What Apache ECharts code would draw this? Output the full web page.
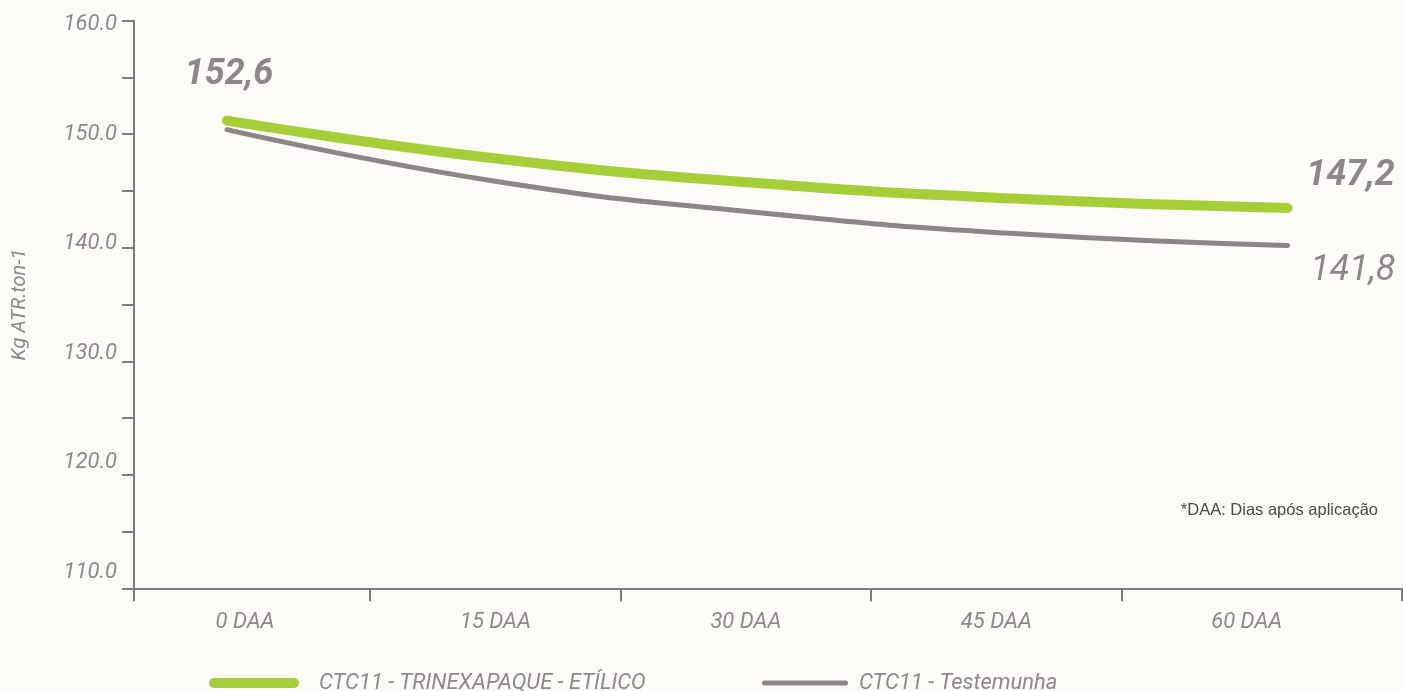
<!DOCTYPE html>
<html>
<head>
<meta charset="utf-8">
<script src="https://cdn.jsdelivr.net/npm/echarts@6/dist/echarts.min.js"></script>
<style>
html,body{margin:0;padding:0;background:#fcfbf8;}
#chart{width:1403px;height:691px;}
</style>
</head>
<body>
<div id="chart"></div>
<script>
// ---- data ----
var daa = [0, 15, 30, 45, 60];
var seriesNames = ['CTC11 - TRINEXAPAQUE - ETÍLICO', 'CTC11 - Testemunha'];
var trinexapaque = [151.2, 147.9, 145.7, 144.3, 143.5];
var testemunha = [150.4, 145.9, 143.1, 141.2, 140.2];
var trinexLabels = ['152,6', null, null, null, '147,2'];
var testeLabels = [null, null, null, null, '141,8'];
var yTicks = [110, 120, 130, 140, 150, 160];
var yName = 'Kg ATR.ton-1';
var footnote = '*DAA: Dias após aplicação';

var GRAY = '#8d888b';
var AXIS = '#7b7b80';
var GREEN = '#a6ce39';
var LINEGRAY = '#8c8589';
var FONT = 'Roboto';

// category boundaries (half way between DAA values)
var tickVals = [-6.65];
for (var i = 0; i < daa.length - 1; i++) tickVals.push((daa[i] + daa[i + 1]) / 2);
tickVals.push(69.3);

function buildData(vals, labels, labelStyles) {
  return vals.map(function (v, i) {
    var item = { value: [daa[i], v] };
    if (labels[i]) {
      item.label = Object.assign({ show: true, formatter: labels[i] }, labelStyles[i] || {});
    }
    return item;
  });
}

var bigBold = { color: GRAY, fontFamily: FONT, fontStyle: 'italic', fontWeight: 'bold', fontSize: 36 };
var greenData = buildData(trinexapaque, trinexLabels, {
  0: Object.assign({ position: 'top', distance: 27, offset: [2, 0] }, bigBold),
  4: Object.assign({ position: 'right', distance: 18, offset: [0, -32] }, bigBold)
});
var grayData = buildData(testemunha, testeLabels, {
  4: { position: 'right', distance: 22, offset: [0, 26], color: GRAY, fontFamily: FONT, fontStyle: 'italic', fontWeight: 'normal', fontSize: 36 }
});

var labelStyle = { color: GRAY, fontFamily: FONT, fontStyle: 'italic', fontWeight: 'normal', fontSize: 22 };

var chart = echarts.init(document.getElementById('chart'), null, { renderer: 'canvas' });
chart.setOption({
  backgroundColor: '#fcfbf8',
  animation: false,
  grid: { left: 134, right: 1, top: 20.7, bottom: 102.7, containLabel: false },
  xAxis: [{
    type: 'value',
    min: tickVals[0],
    max: tickVals[tickVals.length - 1],
    axisLine: { show: true, onZero: false, lineStyle: { color: AXIS, width: 2 } },
    axisTick: { show: true, length: 13, customValues: tickVals, lineStyle: { color: AXIS, width: 2 } },
    axisLabel: Object.assign({
      customValues: daa,
      formatter: function (v) { return v + ' DAA'; },
      margin: 23
    }, labelStyle),
    splitLine: { show: false }
  }, {
    type: 'value',
    show: false,
    min: -5.26,
    max: 66.47,
    splitLine: { show: false }
  }],
  yAxis: [{
    type: 'value',
    min: yTicks[0],
    max: yTicks[yTicks.length - 1],
    interval: 10,
    name: yName,
    nameLocation: 'middle',
    nameGap: 104,
    nameTextStyle: { color: GRAY, fontFamily: FONT, fontStyle: 'italic', fontWeight: 'normal', fontSize: 20 },
    axisLine: { show: true, onZero: false, lineStyle: { color: AXIS, width: 2 } },
    axisTick: { show: true, length: 12, lineStyle: { color: AXIS, width: 2 } },
    minorTick: { show: true, splitNumber: 2, length: 12, lineStyle: { color: AXIS, width: 2 } },
    axisLabel: { show: false },
    splitLine: { show: false },
    minorSplitLine: { show: false }
  }, {
    // label-only axis (the reference's labels are spaced slightly tighter than its ticks)
    type: 'value',
    position: 'left',
    min: 108.56,
    max: 160.35,
    axisLine: { show: false, onZero: false },
    axisTick: { show: false },
    axisLabel: Object.assign({
      customValues: yTicks,
      formatter: function (v) { return v.toFixed(1); },
      margin: 17
    }, labelStyle),
    splitLine: { show: false }
  }],
  legend: [{
    left: 204, top: 667,
    itemWidth: 92, itemHeight: 10, itemGap: 40,
    data: [{ name: seriesNames[0], icon: 'path://M5,0L85,0A5,5,0,0,1,85,10L5,10A5,5,0,0,1,5,0Z', itemStyle: { color: GREEN } }],
    textStyle: { color: GRAY, fontFamily: FONT, fontStyle: 'italic', fontWeight: 'normal', fontSize: 22, padding: [0, 0, 0, 14] }
  }, {
    left: 757, top: 667,
    itemWidth: 88, itemHeight: 5,
    data: [{ name: seriesNames[1], icon: 'path://M2.5,0L83.5,0A2.5,2.5,0,0,1,83.5,5L2.5,5A2.5,2.5,0,0,1,2.5,0Z', itemStyle: { color: LINEGRAY } }],
    textStyle: { color: GRAY, fontFamily: FONT, fontStyle: 'italic', fontWeight: 'normal', fontSize: 22, padding: [0, 0, 0, 5] }
  }],
  graphic: [{
    type: 'text', right: 25, top: 502,
    style: { text: footnote, fill: '#4a4a4a', font: '16.5px "Liberation Sans", Arial, sans-serif' }
  }],
  series: [{
    name: seriesNames[1],
    type: 'line',
    xAxisIndex: 1,
    yAxisIndex: 0,
    smooth: 0.5,
    symbol: 'circle', symbolSize: 1, showSymbol: true,
    itemStyle: { color: LINEGRAY },
    lineStyle: { color: LINEGRAY, width: 5, cap: 'round' },
    data: grayData,
    z: 2
  }, {
    name: seriesNames[0],
    type: 'line',
    xAxisIndex: 1,
    yAxisIndex: 0,
    smooth: 0.5,
    symbol: 'circle', symbolSize: 1, showSymbol: true,
    itemStyle: { color: GREEN },
    lineStyle: { color: GREEN, width: 10, cap: 'round' },
    data: greenData,
    z: 3
  }]
});
</script>
</body>
</html>
